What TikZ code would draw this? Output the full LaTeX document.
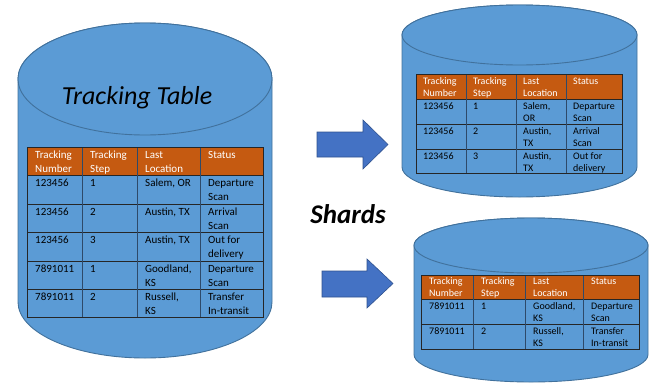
\documentclass[tikz,border=0pt]{standalone}
\usepackage{fontspec}
\setmainfont{Carlito}
\definecolor{cylfill}{HTML}{5B9BD5}
\definecolor{cyldraw}{HTML}{41719C}
\definecolor{arrfill}{HTML}{4472C4}
\definecolor{arrdraw}{HTML}{2F528F}
\definecolor{hdrfill}{HTML}{C55A11}
\definecolor{gridv}{HTML}{2E4A6A}
\newcommand\tc[4]{\node[tx] (#1) at (#2,#3) {\begin{tabular}[t]{@{}l@{}}#4\end{tabular}};}
\newcommand\cyl[5]{% cx, rx, ry, top cy, bottom cy
  \filldraw[cyl] (#1-#2,#4) -- (#1-#2,#5)
    arc[start angle=180,end angle=360,x radius=#2pt,y radius=#3pt]
    -- (#1+#2,#4)
    arc[start angle=0,end angle=180,x radius=#2pt,y radius=#3pt] -- cycle;
  \draw[cyl] (#1,#4) ellipse [x radius=#2pt,y radius=#3pt];}
\begin{document}
\begin{tikzpicture}[x=1pt,y=-1pt,
  cyl/.style={fill=cylfill,draw=cyldraw,line width=0.9pt},
  blockarrow/.style={fill=arrfill,draw=arrdraw,line width=0.6pt},
  hdr/.style={fill=hdrfill},
  hline/.style={draw=black!85,line width=0.8pt},
  vline/.style={draw=gridv,line width=0.8pt},
  tx/.style={anchor=base west,inner sep=0pt},
  big/.style={font=\fontsize{11}{13.5}\selectfont},
  small/.style={font=\fontsize{10}{12}\selectfont},
  hdrtx/.style={text=white}]
\useasboundingbox (0,0) rectangle (660,388);

% ---------- cylinders ----------
\cyl{145}{127}{56}{79}{302}
\cyl{519.5}{117.5}{30}{35}{167}
\cyl{531}{117}{27.5}{245.5}{354.5}

% ---------- title ----------
\node[anchor=base,inner sep=0pt,font=\fontsize{26}{30}\selectfont\itshape] (title) at (137,104) {Tracking Table};

% ---------- big table ----------
\fill[hdr] (27,147) rectangle (263,175);
\foreach \y in {175,204,232,261,289} \draw[hline] (27,\y) -- (263,\y);
\foreach \x in {82,137,200} \draw[vline] (\x,147) -- (\x,317);
\draw[hline] (27,147) rectangle (263,317);
\begin{scope}[every node/.append style={big}]
\begin{scope}[every node/.append style={hdrtx}]
\tc{a00}{35}{158.5}{Tracking\\Number}
\tc{a01}{90}{158.5}{Tracking\\Step}
\tc{a02}{145}{158.5}{Last\\Location}
\tc{a03}{208}{158.5}{Status}
\end{scope}
\tc{a10}{35}{186.5}{123456}
\tc{a11}{90}{186.5}{1}
\tc{a12}{145}{186.5}{Salem, OR}
\tc{a13}{208}{186.5}{Departure\\Scan}
\tc{a20}{35}{215.5}{123456}
\tc{a21}{90}{215.5}{2}
\tc{a22}{145}{215.5}{Austin, TX}
\tc{a23}{208}{215.5}{Arrival\\Scan}
\tc{a30}{35}{243.5}{123456}
\tc{a31}{90}{243.5}{3}
\tc{a32}{145}{243.5}{Austin, TX}
\tc{a33}{208}{243.5}{Out for\\delivery}
\tc{a40}{35}{272.5}{7891011}
\tc{a41}{90}{272.5}{1}
\tc{a42}{145}{272.5}{Goodland,\\KS}
\tc{a43}{208}{272.5}{Departure\\Scan}
\tc{a50}{35}{300.5}{7891011}
\tc{a51}{90}{300.5}{2}
\tc{a52}{145}{300.5}{Russell,\\KS}
\tc{a53}{208}{300.5}{Transfer\\In-transit}
\end{scope}

% ---------- top-right table ----------
\fill[hdr] (416,74) rectangle (622,99);
\foreach \y in {99,124,149} \draw[hline] (416,\y) -- (622,\y);
\foreach \x in {466,516,566} \draw[vline] (\x,74) -- (\x,173);
\draw[hline] (416,74) rectangle (622,173);
\begin{scope}[every node/.append style={small}]
\begin{scope}[every node/.append style={hdrtx}]
\tc{b00}{423}{84}{Tracking\\Number}
\tc{b01}{473}{84}{Tracking\\Step}
\tc{b02}{523}{84}{Last\\Location}
\tc{b03}{573}{84}{Status}
\end{scope}
\tc{b10}{423}{109}{123456}
\tc{b11}{473}{109}{1}
\tc{b12}{523}{109}{Salem,\\OR}
\tc{b13}{573}{109}{Departure\\Scan}
\tc{b20}{423}{134}{123456}
\tc{b21}{473}{134}{2}
\tc{b22}{523}{134}{Austin,\\TX}
\tc{b23}{573}{134}{Arrival\\Scan}
\tc{b30}{423}{159}{123456}
\tc{b31}{473}{159}{3}
\tc{b32}{523}{159}{Austin,\\TX}
\tc{b33}{573}{159}{Out for\\delivery}
\end{scope}

% ---------- bottom-right table ----------
\fill[hdr] (421,275) rectangle (639,299);
\foreach \y in {299,324} \draw[hline] (421,\y) -- (639,\y);
\foreach \x in {473,525,583} \draw[vline] (\x,275) -- (\x,349);
\draw[hline] (421,275) rectangle (639,349);
\begin{scope}[every node/.append style={small}]
\begin{scope}[every node/.append style={hdrtx}]
\tc{c00}{429}{284.5}{Tracking\\Number}
\tc{c01}{481}{284.5}{Tracking\\Step}
\tc{c02}{533}{284.5}{Last\\Location}
\tc{c03}{591}{284.5}{Status}
\end{scope}
\tc{c10}{429}{309}{7891011}
\tc{c11}{481}{309}{1}
\tc{c12}{533}{309}{Goodland,\\KS}
\tc{c13}{591}{309}{Departure\\Scan}
\tc{c20}{429}{334}{7891011}
\tc{c21}{481}{334}{2}
\tc{c22}{533}{334}{Russell,\\KS}
\tc{c23}{591}{334}{Transfer\\In-transit}
\end{scope}

% ---------- block arrows ----------
\filldraw[blockarrow] (317,132) -- (363,132) -- (363,120) -- (388,144.5)
  -- (363,169) -- (363,157) -- (317,157) -- cycle;
\filldraw[blockarrow] (322,271) -- (367,271) -- (367,259) -- (393,283.5)
  -- (367,308) -- (367,297) -- (322,297) -- cycle;

% ---------- Shards ----------
\node[anchor=base,inner sep=0pt,font=\fontsize{27}{32}\selectfont\bfseries\itshape] (shards) at (348,223) {Shards};
\end{tikzpicture}
\end{document}
